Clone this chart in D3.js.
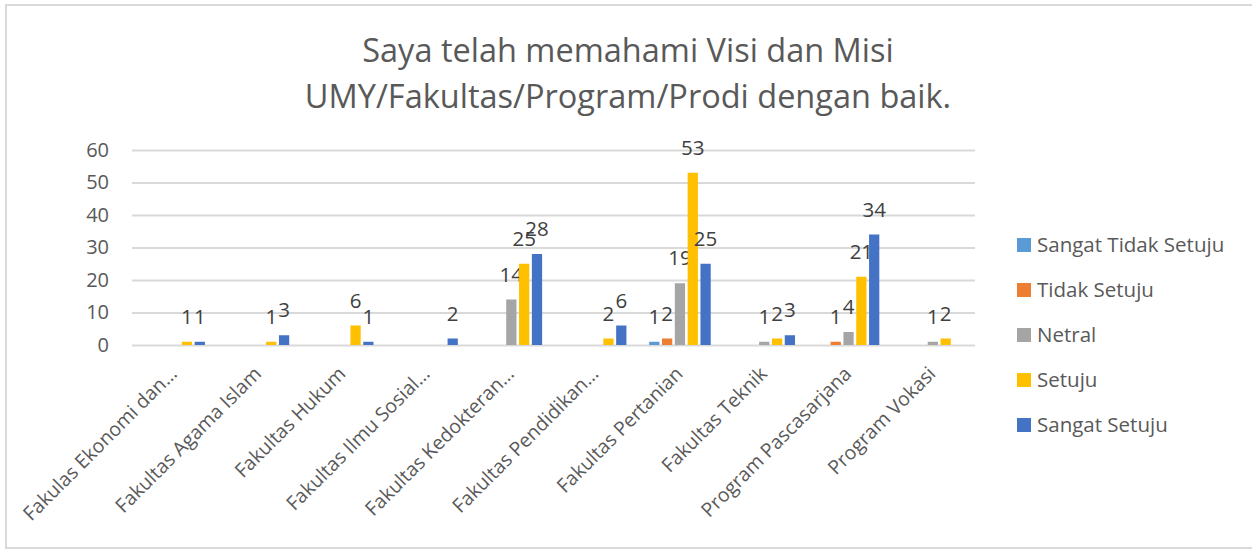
<!DOCTYPE html>
<html>
<head>
<meta charset="utf-8">
<script src="https://cdn.jsdelivr.net/npm/d3@7"></script>
<style>
    html, body { margin: 0; padding: 0; background: #fff; }
    svg { display: block; font-family: 'Open Sans', sans-serif; }
</style>
</head>
<body>
<div id="chart"></div>
<script>
// chart data
const categories = [
    'Fakulas Ekonomi dan…',
    'Fakultas Agama Islam',
    'Fakultas Hukum',
    'Fakultas Ilmu Sosial…',
    'Fakultas Kedokteran…',
    'Fakultas Pendidikan…',
    'Fakultas Pertanian',
    'Fakultas Teknik',
    'Program Pascasarjana',
    'Program Vokasi',
];
const seriesNames = ['Sangat Tidak Setuju', 'Tidak Setuju', 'Netral', 'Setuju', 'Sangat Setuju'];
const sangatTidakSetuju = [null, null, null, null, null, null, 1, null, null, null];
const tidakSetuju = [null, null, null, null, null, null, 2, null, 1, null];
const netral = [null, null, null, null, 14, null, 19, 1, 4, 1];
const setuju = [1, 1, 6, null, 25, 2, 53, 2, 21, 2];
const sangatSetuju = [1, 3, 1, 2, 28, 6, 25, 3, 34, null];
const yTicks = [0, 10, 20, 30, 40, 50, 60];
const titleLines = ['Saya telah memahami Visi dan Misi', 'UMY/Fakultas/Program/Prodi dengan baik.'];

const seriesValues = [sangatTidakSetuju, tidakSetuju, netral, setuju, sangatSetuju];
const colors = ['#5b9bd5', '#ed7d31', '#a5a5a5', '#ffc000', '#4472c4'];

const width = 1252;
const height = 550;
const plot = { left: 132, right: 975, top: 150, bottom: 345 };

const svg = d3.select('#chart')
    .append('svg')
    .attr('width', width)
    .attr('height', height);

// outer frame
svg.append('rect')
    .attr('x', 6)
    .attr('y', 5)
    .attr('width', width + 20)
    .attr('height', 543)
    .attr('fill', '#fff')
    .attr('stroke', '#d9d9d9')
    .attr('stroke-width', 2);

const title = svg.append('text')
    .attr('text-anchor', 'middle')
    .attr('fill', '#595959')
    .style('font-size', '32.5px');

titleLines.forEach((line, i) => {
    title.append('tspan')
        .attr('x', 628)
        .attr('y', 62 + i * 46)
        .text(line);
});

const x0 = d3.scaleBand()
    .domain(categories)
    .range([plot.left, plot.right])
    .paddingInner(0.27)
    .paddingOuter(0.135);

const x1 = d3.scaleBand()
    .domain(seriesNames)
    .range([0, x0.bandwidth()])
    .paddingInner(0.2);

const y = d3.scaleLinear()
    .domain([0, 60])
    .range([plot.bottom, plot.top]);

// gridlines + y labels
const yAxis = svg.append('g')
    .attr('transform', `translate(${plot.left}, 0)`)
    .call(d3.axisLeft(y).tickValues(yTicks).tickSize(-(plot.right - plot.left)).tickPadding(23));

yAxis.select('.domain').remove();
yAxis.selectAll('.tick line')
    .attr('stroke', '#d9d9d9')
    .attr('stroke-width', 2);
yAxis.selectAll('.tick text')
    .attr('fill', '#595959')
    .style('font-size', '20px')
    .style('font-family', "'Open Sans', sans-serif");

// bars
seriesNames.forEach((name, s) => {
    const rows = categories
        .map((cat, i) => ({ cat, value: seriesValues[s][i] }))
        .filter((d) => d.value !== null);

    const g = svg.append('g');

    g.selectAll('rect')
        .data(rows)
        .enter()
        .append('rect')
        .attr('x', (d) => x0(d.cat) + x1(name))
        .attr('y', (d) => y(d.value))
        .attr('width', x1.bandwidth())
        .attr('height', (d) => y(0) - y(d.value))
        .attr('fill', colors[s]);

    g.selectAll('text')
        .data(rows)
        .enter()
        .append('text')
        .attr('x', (d) => x0(d.cat) + x1(name) + x1.bandwidth() / 2)
        .attr('y', (d) => y(d.value) - 18)
        .attr('text-anchor', 'middle')
        .attr('fill', '#404040')
        .style('font-size', '20.5px')
        .text((d) => d.value);
});

// category labels
svg.append('g')
    .selectAll('text')
    .data(categories)
    .enter()
    .append('text')
    .attr('transform', (d) => `translate(${x0(d) + x0.bandwidth() / 2 + 4}, ${plot.bottom + 30}) rotate(-45)`)
    .attr('text-anchor', 'end')
    .attr('fill', '#595959')
    .style('font-size', '19.5px')
    .text((d) => d);

// legend
const legend = svg.append('g')
    .attr('transform', 'translate(1017, 245)');

seriesNames.forEach((name, i) => {
    const row = legend.append('g')
        .attr('transform', `translate(0, ${i * 45})`);

    row.append('rect')
        .attr('x', 0)
        .attr('y', -7)
        .attr('width', 14)
        .attr('height', 14)
        .attr('fill', colors[i]);

    row.append('text')
        .attr('x', 20)
        .attr('y', 0)
        .attr('dy', '0.35em')
        .attr('fill', '#595959')
        .style('font-size', '20.5px')
        .text(name);
});
</script>
</body>
</html>
